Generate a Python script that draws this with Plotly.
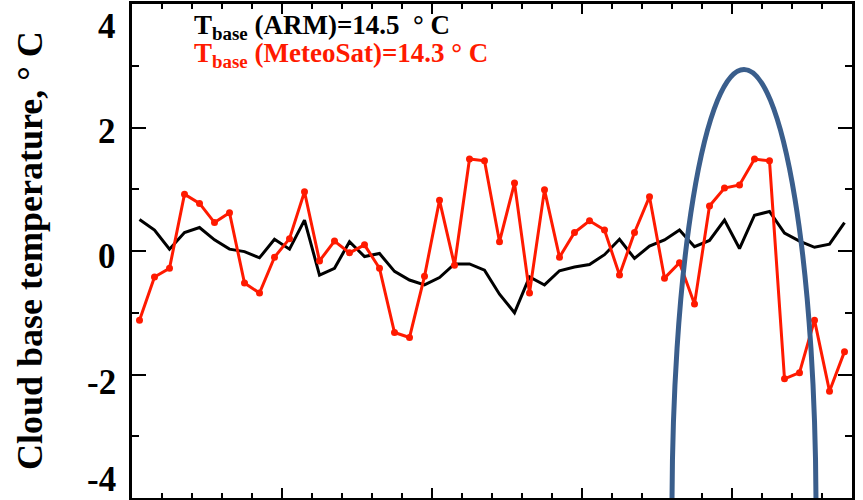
import plotly.graph_objects as go

# Sample index (bin centres) and cloud-base temperature anomalies, deg C
x_vals = [k + 0.5 for k in range(48)]

t_arm = [0.51, 0.34, 0.03, 0.30, 0.38, 0.18, 0.03, -0.01, -0.11, 0.19,
         0.03, 0.50, -0.39, -0.28, 0.15, -0.09, -0.04, -0.33, -0.47, -0.55,
         -0.43, -0.21, -0.21, -0.31, -0.70, -1.00, -0.42, -0.55, -0.32, -0.26,
         -0.22, -0.06, 0.19, -0.12, 0.08, 0.18, 0.34, 0.07, 0.17, 0.50,
         0.04, 0.58, 0.64, 0.29, 0.16, 0.06, 0.11, 0.46]

t_meteosat = [-1.12, -0.42, -0.28, 0.92, 0.77, 0.46, 0.62, -0.52, -0.68, -0.10,
              0.20, 0.96, -0.16, 0.16, -0.03, 0.10, -0.28, -1.32, -1.40, -0.41,
              0.82, -0.23, 1.49, 1.46, 0.15, 1.10, -0.68, 0.99, -0.10, 0.30,
              0.49, 0.34, -0.39, 0.30, 0.88, -0.44, -0.19, -0.86, 0.73, 1.02,
              1.07, 1.49, 1.46, -2.07, -1.97, -1.12, -2.27, -1.63]

y_ticks = [-4, -2, 0, 2, 4]
y_tick_text = ["-4", "-2", "0", "2", "4"]

label_arm = "T<sub>base</sub> (ARM)=14.5\u00a0\u00a0° C"
label_meteosat = "T<sub>base</sub> (MeteoSat)=14.3 ° C"
y_title = "Cloud base temperature, ° C"

# Highlight ellipse (data units)
ell_cx, ell_ax = 40.8, 4.8
ell_cy, ell_by = -4.2, 7.14

SERIF = "Liberation Serif"

fig = go.Figure()
fig.add_trace(go.Scatter(x=x_vals, y=t_arm, mode="lines",
                         line=dict(color="black", width=3), showlegend=False))
fig.add_trace(go.Scatter(x=x_vals, y=t_meteosat, mode="lines+markers",
                         line=dict(color="#ff1a00", width=3),
                         marker=dict(color="#ff1a00", size=7), showlegend=False))

fig.add_shape(type="circle", xref="x", yref="y",
              x0=ell_cx - ell_ax, x1=ell_cx + ell_ax,
              y0=ell_cy - ell_by, y1=ell_cy + ell_by,
              line=dict(color="#3a5e8c", width=5), layer="above")

# y tick labels, nudged to sit inside the figure at the ends
label_shift = [19, -8, -5, -4, -22]
for v, txt, s in zip(y_ticks, y_tick_text, label_shift):
    fig.add_annotation(x=0, xref="paper", y=v, yref="y", text="<b>%s</b>" % txt,
                       showarrow=False, xanchor="right", yanchor="middle",
                       xshift=-14, yshift=s,
                       font=dict(family=SERIF, size=35, color="black"))

fig.add_annotation(x=0, xref="paper", y=0, yref="y", text="<b>%s</b>" % y_title,
                   textangle=-90, showarrow=False, xanchor="right", yanchor="middle",
                   xshift=-80, yshift=0,
                   font=dict(family=SERIF, size=36, color="black"))

fig.add_annotation(x=4.0, xref="x", y=3.62, yref="y", text="<b>%s</b>" % label_arm,
                   showarrow=False, xanchor="left", yanchor="middle",
                   font=dict(family=SERIF, size=27, color="black"))
fig.add_annotation(x=4.0, xref="x", y=3.17, yref="y", text="<b>%s</b>" % label_meteosat,
                   showarrow=False, xanchor="left", yanchor="middle",
                   font=dict(family=SERIF, size=27, color="#ff1a00"))

fig.update_xaxes(range=[0, 48], showgrid=False, zeroline=False,
                 showline=True, linecolor="black", linewidth=3, mirror="ticks",
                 ticks="inside", tickvals=[0, 10, 20, 30, 40], ticklen=10,
                 tickwidth=2, tickcolor="black", showticklabels=False,
                 minor=dict(dtick=2, ticks="inside", ticklen=5, tickwidth=2,
                            tickcolor="black", showgrid=False))
fig.update_yaxes(range=[-4, 4], showgrid=False, zeroline=False,
                 showline=True, linecolor="black", linewidth=3, mirror="ticks",
                 ticks="inside", tickvals=y_ticks, ticklen=14,
                 tickwidth=2, tickcolor="black", showticklabels=False,
                 minor=dict(dtick=1, ticks="inside", ticklen=7, tickwidth=2,
                            tickcolor="black", showgrid=False))

fig.update_layout(width=863, height=500, paper_bgcolor="white", plot_bgcolor="white",
                  margin=dict(l=132, r=11, t=4, b=2), showlegend=False)

fig.write_html("out.html")
